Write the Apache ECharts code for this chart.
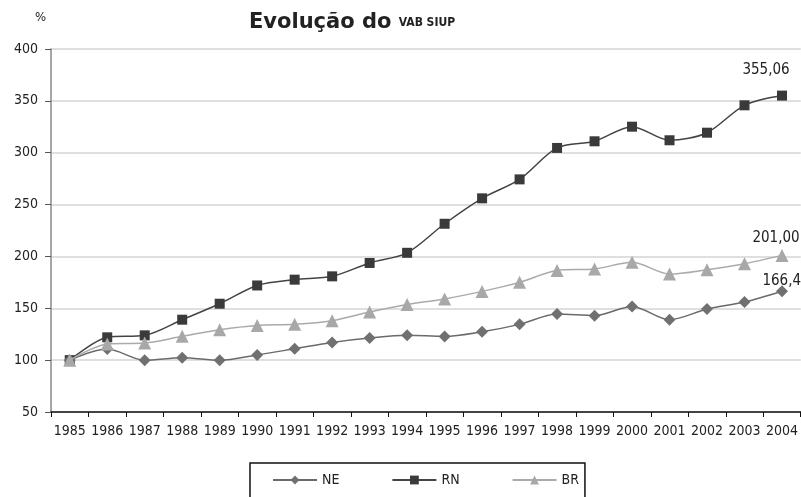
<!DOCTYPE html>
<html><head><meta charset="utf-8">
<script src="https://cdn.jsdelivr.net/npm/echarts@6/dist/echarts.min.js"></script>
<style>html,body{margin:0;padding:0;background:#fff}#c{width:801px;height:497px}</style>
</head><body><div id="c"></div>
<script>
const years = ['1985','1986','1987','1988','1989','1990','1991','1992','1993','1994','1995','1996','1997','1998','1999','2000','2001','2002','2003','2004'];
const NE = [100,110.7,99.8,102.4,99.8,105,111,117.1,121.3,123.9,122.9,127.4,134.5,144.5,142.9,151.8,139,149.3,156,166.48];
const RN = [100,122,123.9,139,154.4,172,177.6,180.8,193.7,203.5,231.5,256,274.3,304.6,311,325.1,312,319.3,345.7,355.06];
const BR = [100,115.6,116.5,123,129.4,133.5,134.5,138,146.4,153.6,159,166.3,175,186.5,187.9,194.3,183,187.2,193,201.00];
const yTicks = [50,100,150,200,250,300,350,400];
const FONT = "'DejaVu Sans Condensed','Liberation Sans Narrow','Liberation Sans',sans-serif";
const fmt = v => v.toFixed(2).replace('.', ',');
function lastLabel(arr, offset){
  return arr.map((v,i)=> i===arr.length-1 ? {value:v, label:{show:true, position:'top', offset:offset, formatter:()=>fmt(v), fontFamily:FONT, fontSize:15, color:'#222'}} : v);
}
const chart = echarts.init(document.getElementById('c'), null, {renderer:'canvas'});
chart.setOption({
  animation:false,
  backgroundColor:'#fff',
  title:{
    text:'{a|Evolução do }{b|VAB SIUP}',
    left:244, top:7,
    textStyle:{rich:{
      a:{fontFamily:"'DejaVu Sans',sans-serif", fontWeight:'bold', fontSize:21, color:'#222'},
      b:{fontFamily:"'DejaVu Sans Condensed','DejaVu Sans',sans-serif", fontWeight:'bold', fontSize:12, color:'#222'}
    }}
  },
  graphic:[{type:'text', left:35, top:11, style:{text:'%', fontFamily:FONT, fontSize:13, fill:'#222'}}],
  grid:{left:51, right:0, top:49, bottom:85, containLabel:false},
  legend:{
    data:['NE','RN','BR'],
    left:250, top:463,
    orient:'horizontal',
    borderColor:'#111', borderWidth:1.5,
    padding:[10,6,16,22],
    itemWidth:44, itemHeight:11, itemGap:52,
    textStyle:{fontFamily:FONT, fontSize:14, color:'#222'}
  },
  xAxis:{
    type:'category', data:years, boundaryGap:true,
    axisLine:{lineStyle:{color:'#111', width:1.5}},
    axisTick:{show:true, length:5, interval:0, lineStyle:{color:'#111'}},
    axisLabel:{fontFamily:FONT, fontSize:14, color:'#222', margin:12, interval:0}
  },
  yAxis:{
    type:'value', min:50, max:400, interval:50,
    axisLine:{show:true, lineStyle:{color:'#888', width:1.5}},
    axisTick:{show:true, length:6, lineStyle:{color:'#555'}},
    axisLabel:{fontFamily:FONT, fontSize:14, color:'#222', margin:13, formatter:v=>yTicks.includes(v)?String(v):''},
    splitLine:{lineStyle:{color:'#d4d4d4', width:1.5}}
  },
  series:[
    {name:'NE', type:'line', data:lastLabel(NE,[4,8]), smooth:0.3, symbol:'diamond', symbolSize:12,
     lineStyle:{color:'#6a6a6a', width:1.5}, itemStyle:{color:'#707070'}, z:3},
    {name:'RN', type:'line', data:lastLabel(RN,[-16,-8]), smooth:0.3, symbol:'rect', symbolSize:10,
     lineStyle:{color:'#444', width:1.5}, itemStyle:{color:'#3a3a3a'}, z:2},
    {name:'BR', type:'line', data:lastLabel(BR,[-6,2]), smooth:0.3, symbol:'triangle', symbolSize:13,
     lineStyle:{color:'#aaa', width:1.5}, itemStyle:{color:'#a8a8a8'}, z:4}
  ]
});
</script></body></html>
